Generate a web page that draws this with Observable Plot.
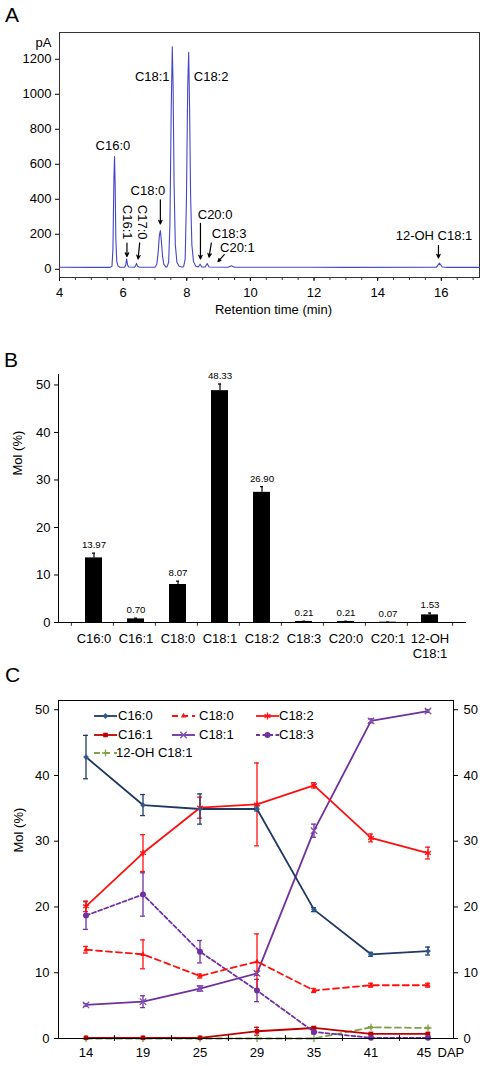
<!DOCTYPE html>
<html>
<head>
<meta charset="utf-8">
<script src="https://cdn.jsdelivr.net/npm/d3@7"></script>
<script src="https://cdn.jsdelivr.net/npm/@observablehq/plot@0.6"></script>
<style>
html,body{margin:0;padding:0;background:#fff;}
#page{position:relative;width:486px;height:1066px;overflow:hidden;font-family:"Liberation Sans",Arial,Helvetica,sans-serif;color:#000;}
.panel{position:absolute;left:0;}
.letter{position:absolute;font-size:21px;line-height:1;}
.legend-text{position:absolute;font-size:13px;line-height:14px;white-space:nowrap;}
.legend-swatch{position:absolute;overflow:visible;}
</style>
</head>
<body>
<div id="page">
  <div class="panel" id="panelA" style="top:0px"></div>
  <div class="panel" id="panelB" style="top:330px"></div>
  <div class="panel" id="panelC" style="top:690px"></div>
  <div class="letter" style="left:5px;top:4px">A</div>
  <div class="letter" style="left:4px;top:349px">B</div>
  <div class="letter" style="left:5px;top:664px">C</div>
  <div id="legendC"></div>
</div>
<script>
// ---------------- Panel A: GC chromatogram ----------------
const chromTime = [4.0, 5.0, 5.55, 5.60, 5.65, 5.68, 5.71, 5.73, 5.75, 5.77, 5.80, 5.84, 5.90,
  6.05, 6.08, 6.11, 6.14, 6.18, 6.36, 6.39, 6.42, 6.45, 6.50,
  7.00, 7.06, 7.10, 7.14, 7.17, 7.20, 7.24, 7.28, 7.34,
  7.38, 7.43, 7.47, 7.51, 7.545, 7.57, 7.60, 7.64, 7.69, 7.76, 7.85,
  7.90, 7.95, 7.99, 8.03, 8.06, 8.09, 8.12, 8.16, 8.21, 8.28,
  8.36, 8.42, 8.47, 8.58, 8.64, 8.70, 9.30, 9.40, 9.50,
  10.5, 12.0, 13.0, 15.85, 15.94, 16.03, 16.2, 17.2];
const chromSignal = [12, 11, 11, 12, 18, 120, 520, 644, 480, 180, 45, 18, 12,
  12, 24, 59, 24, 13, 12, 19, 34, 19, 12,
  12, 30, 95, 195, 221, 165, 72, 28, 14,
  14, 40, 250, 900, 1272, 1050, 500, 140, 40, 17, 13,
  14, 60, 400, 1050, 1240, 900, 420, 140, 45, 18,
  13, 29, 13, 13, 33, 13, 12, 20, 12,
  12, 12, 11, 12, 35, 13, 11, 11];
const chromXTicks = [4, 6, 8, 10, 12, 14, 16];
const chromMinorTicks = d3.range(4, 17.01, 0.5);
const chromYTicks = [0, 200, 400, 600, 800, 1000, 1200];
const peakLabels = ["C16:0", "C18:1", "C18:2", "C18:0", "C16:1", "C17:0", "C20:0", "C18:3", "C20:1", "12-OH C18:1"];
const peakLabelTime = [5.68, 7.46, 8.22, 6.78, 6.12, 6.59, 8.89, 9.33, 9.59, 15.77];
const peakLabelSignal = [703, 1097, 1097, 450, 269, 269, 311, 202, 120, 193];
const rotatedPeaks = ["C16:1", "C17:0"];
const arrowPeaks = ["C16:1", "C17:0", "C18:0", "C20:0", "C18:3", "C20:1", "12-OH C18:1"];
const arrowTimeFrom = [6.12, 6.52, 7.17, 8.43, 8.77, 9.18, 15.91];
const arrowSignalFrom = [149, 151, 397, 263, 149, 84, 135];
const arrowTimeTo = [6.12, 6.47, 7.17, 8.43, 8.70, 8.98, 15.91];
const arrowSignalTo = [73, 59, 259, 59, 69, 44, 65];

// ---------------- Panel B: composition ----------------
const fattyAcids = ["C16:0", "C16:1", "C18:0", "C18:1", "C18:2", "C18:3", "C20:0", "C20:1", "12-OH C18:1"];
const molPercent = [13.6, 0.76, 8.0, 48.8, 27.4, 0.21, 0.21, 0.07, 1.6];
const molError = [1.0, 0.15, 0.7, 1.4, 1.2, 0.05, 0.05, 0.02, 0.4];
const molLabels = ["13.97", "0.70", "8.07", "48.33", "26.90", "0.21", "0.21", "0.07", "1.53"];
const molTicks = [0, 10, 20, 30, 40, 50];

// ---------------- Panel C: time course ----------------
const dap = ["14", "19", "25", "29", "35", "41", "45"];
const c16_0 = [42.8, 35.5, 34.9, 34.9, 19.6, 12.8, 13.3];
const c16_0Err = [3.3, 1.6, 2.3, 0.3, 0.3, 0.3, 0.6];
const c16_1 = [0.1, 0.1, 0.1, 1.1, 1.6, 0.7, 0.7];
const c16_1Err = [0.05, 0.05, 0.05, 0.6, 0.2, 0.1, 0.1];
const c18_0 = [13.5, 12.8, 9.5, 11.7, 7.3, 8.1, 8.1];
const c18_0Err = [0.5, 2.2, 0.3, 4.2, 0.3, 0.3, 0.3];
const c18_1 = [5.1, 5.6, 7.6, 9.9, 31.6, 48.3, 49.8];
const c18_1Err = [0.2, 0.9, 0.4, 0.3, 1.0, 0.3, 0.2];
const c18_2 = [20.1, 28.2, 35.1, 35.6, 38.5, 30.5, 28.2];
const c18_2Err = [0.8, 2.8, 1.6, 6.3, 0.4, 0.6, 0.9];
const c18_3 = [18.7, 21.9, 13.2, 7.3, 1.0, 0.1, 0.1];
const c18_3Err = [2.1, 3.3, 1.7, 1.7, 0.3, 0.05, 0.05];
const oh18_1 = [0.0, 0.0, 0.0, 0.0, 0.0, 1.7, 1.6];
const oh18_1Err = [0, 0, 0, 0, 0, 0.1, 0.1];
const courseTicks = [0, 10, 20, 30, 40, 50];

// ================= rendering =================
const FONT = '"Liberation Sans", Arial, Helvetica, sans-serif';
const baseStyle = {fontSize: "13px", fontFamily: FONT, color: "#000", background: "transparent", overflow: "visible"};

// ---- A ----
const trace = chromTime.map((t, i) => ({time: t, signal: chromSignal[i]}));
const peaks = peakLabels.map((name, i) => ({name, time: peakLabelTime[i], signal: peakLabelSignal[i]}));
const arrows = arrowPeaks.map((name, i) => ({name, x1: arrowTimeFrom[i], y1: arrowSignalFrom[i], x2: arrowTimeTo[i], y2: arrowSignalTo[i]}));

const plotA = Plot.plot({
  width: 486, height: 325,
  marginLeft: 59, marginRight: 7, marginTop: 32, marginBottom: 48,
  style: baseStyle,
  x: {domain: [4, 17.2]},
  y: {domain: [-47, 1353]},
  marks: [
    Plot.axisX({ticks: chromMinorTicks, tickSize: 3, tickFormat: () => "", label: null, stroke: "#333"}),
    Plot.axisX({ticks: chromXTicks, tickSize: 4, tickPadding: 6, label: null, fontSize: 13, tickFormat: d => String(d)}),
    Plot.axisY({ticks: chromYTicks, tickSize: 4, tickPadding: 4, label: null, fontSize: 13, tickFormat: d => String(d)}),
    Plot.frame({stroke: "#333"}),
    Plot.line(trace, {x: "time", y: "signal", stroke: "#4646c8", strokeWidth: 1.1}),
    Plot.text(peaks, {filter: d => d.name === "C18:1", x: "time", y: "signal", text: "name", textAnchor: "end", fontSize: 13}),
    Plot.text(peaks, {filter: d => d.name === "C18:2", x: "time", y: "signal", text: "name", textAnchor: "start", fontSize: 13}),
    Plot.text(peaks, {filter: d => !rotatedPeaks.includes(d.name) && d.name !== "C18:1" && d.name !== "C18:2", x: "time", y: "signal", text: "name", fontSize: 13}),
    Plot.text(peaks, {filter: d => rotatedPeaks.includes(d.name), x: "time", y: "signal", text: "name", rotate: 90, fontSize: 13}),
    Plot.arrow(arrows, {x1: "x1", y1: "y1", x2: "x2", y2: "y2", stroke: "#000", strokeWidth: 1.2, headLength: 5, headAngle: 50}),
    Plot.text(["pA"], {frameAnchor: "top-left", text: d => d, dx: -16, dy: 5, textAnchor: "middle", fontSize: 13}),
    Plot.text(["Retention time (min)"], {frameAnchor: "bottom", text: d => d, dx: 4, dy: 36, fontSize: 13})
  ]
});
document.getElementById("panelA").appendChild(plotA);

// ---- B ----
const barData = fattyAcids.map((name, i) => ({name, value: molPercent[i], err: molError[i], label: molLabels[i]}));
const bLeft = 58, bRight = 465;
const bStep = (bRight - bLeft) / fattyAcids.length;
const plotB = Plot.plot({
  width: 486, height: 340,
  marginLeft: bLeft, marginRight: 486 - bRight, marginTop: 44, marginBottom: 48,
  style: baseStyle,
  x: {type: "band", domain: fattyAcids, padding: 0.6, align: 0.5},
  y: {domain: [0, 52.2]},
  marks: [
    Plot.barY(barData, {x: "name", y: "value", fill: "#000"}),
    Plot.ruleX(barData, {x: "name", y1: "value", y2: d => d.value + d.err, stroke: "#000", strokeWidth: 1.2}),
    Plot.tickY(barData, {x: "name", y: d => d.value + d.err, stroke: "#000", strokeWidth: 1.2, insetLeft: 7, insetRight: 7}),
    Plot.text(barData, {x: "name", y: d => d.value + d.err, text: "label", dy: -8, fontSize: 9.7}),
    Plot.ruleX(fattyAcids, {x: d => d, y1: 0, y2: -0.8, dx: -bStep / 2, stroke: "#333"}),
    Plot.ruleX(fattyAcids.slice(-1), {x: d => d, y1: 0, y2: -0.8, dx: bStep / 2, stroke: "#333"}),
    Plot.axisY({ticks: molTicks, tickSize: 4, tickPadding: 4, label: null, fontSize: 13}),
    Plot.axisX({tickSize: 0, tickPadding: 9, label: null, fontSize: 13, lineHeight: 1.2,
      tickFormat: d => d === "12-OH C18:1" ? "12-OH\nC18:1" : d}),
    Plot.frame({anchor: "left", stroke: "#000"}),
    Plot.frame({anchor: "bottom", stroke: "#000"}),
    Plot.text(["Mol (%)"], {frameAnchor: "left", text: d => d, rotate: -90, dx: -41, dy: -23, fontSize: 13})
  ]
});
document.getElementById("panelB").appendChild(plotB);

// ---- C ----
const seriesC = [
  {name: "12-OH C18:1", values: oh18_1, err: oh18_1Err},
  {name: "C16:1", values: c16_1, err: c16_1Err},
  {name: "C18:3", values: c18_3, err: c18_3Err},
  {name: "C18:1", values: c18_1, err: c18_1Err},
  {name: "C18:0", values: c18_0, err: c18_0Err},
  {name: "C18:2", values: c18_2, err: c18_2Err},
  {name: "C16:0", values: c16_0, err: c16_0Err}
];
const styleC = {
  "C16:0": {color: "#1f3864", mark: "#2f5b8b", symbol: "diamond2", r: 2.6, dash: null, filled: true},
  "C16:1": {color: "#c00000", mark: "#c00000", symbol: "square2", r: 2.9, dash: null, filled: true},
  "C18:0": {color: "#ff1010", mark: "#ff1010", symbol: "triangle2", r: 2.6, dash: "6,4", filled: true},
  "C18:1": {color: "#7030a0", mark: "#7f4fb0", symbol: "times", r: 3.0, dash: null, filled: false},
  "C18:2": {color: "#ff1010", mark: "#ff1010", symbol: "asterisk", r: 3.2, dash: null, filled: false},
  "C18:3": {color: "#7030a0", mark: "#7030a0", symbol: "circle", r: 3.0, dash: "4,2.5", filled: true},
  "12-OH C18:1": {color: "#82a048", mark: "#82a048", symbol: "plus", r: 2.4, dash: "6,4", filled: false}
};
const legendOrder = [["C16:0", "C18:0", "C18:2"], ["C16:1", "C18:1", "C18:3"], ["12-OH C18:1"]];

const cRange = [56.5, 456.5];
const cStep = (cRange[1] - cRange[0]) / dap.length;
const capInset = (cStep - 5) / 2;
const marksC = [];
for (const s of seriesC) {
  const st = styleC[s.name];
  const rows = dap.map((d, i) => ({day: d, v: s.values[i], e: s.err[i]}));
  const withErr = rows.filter(d => d.e > 0.05);
  marksC.push(
    Plot.ruleX(withErr, {x: "day", y1: d => d.v - d.e, y2: d => d.v + d.e, stroke: st.color, strokeWidth: 1.3}),
    Plot.tickY(withErr, {x: "day", y: d => d.v - d.e, stroke: st.color, strokeWidth: 1.3, insetLeft: capInset, insetRight: capInset}),
    Plot.tickY(withErr, {x: "day", y: d => d.v + d.e, stroke: st.color, strokeWidth: 1.3, insetLeft: capInset, insetRight: capInset}),
    Plot.line(rows, {x: "day", y: "v", stroke: st.color, strokeWidth: 1.8, strokeDasharray: st.dash})
  );
}
for (const s of seriesC) {
  const st = styleC[s.name];
  const rows = dap.map((d, i) => ({day: d, v: s.values[i]}));
  marksC.push(st.filled
    ? Plot.dot(rows, {x: "day", y: "v", symbol: st.symbol, r: st.r, fill: st.mark, stroke: "none"})
    : Plot.dot(rows, {x: "day", y: "v", symbol: st.symbol, r: st.r, fill: "none", stroke: st.mark, strokeWidth: 1.3}));
}

const lastDay = dap[dap.length - 1];
const plotC = Plot.plot({
  width: 486, height: 376,
  marginLeft: 58, marginRight: 33, marginTop: 10, marginBottom: 28,
  style: baseStyle,
  x: {type: "band", domain: dap, padding: 0, range: cRange, axis: null},
  y: {domain: [0, 51.4]},
  marks: [
    ...marksC,
    Plot.ruleX(dap.slice(1), {x: d => d, y1: -0.45, y2: 0.45, dx: -cStep / 2, stroke: "#000"}),
    Plot.axisY({ticks: courseTicks, anchor: "left", tickSize: 4, tickPadding: 5, label: null, fontSize: 13}),
    Plot.axisY({ticks: courseTicks, anchor: "right", tickSize: 4, tickPadding: 6, label: null, fontSize: 13}),
    Plot.text(dap.filter(d => d !== lastDay), {x: d => d, text: d => d, frameAnchor: "bottom", dy: 18.4, fontSize: 13}),
    Plot.text([lastDay], {x: d => d, text: d => d, frameAnchor: "bottom", dx: -4, dy: 18.4, fontSize: 13}),
    Plot.frame({stroke: "#000"}),
    Plot.text(["DAP"], {frameAnchor: "bottom-right", text: d => d, textAnchor: "start", dx: -16, dy: 18.4, fontSize: 13}),
    Plot.text(["Mol (%)"], {frameAnchor: "left", text: d => d, rotate: -90, dx: -40, dy: -17, fontSize: 13})
  ]
});
document.getElementById("panelC").appendChild(plotC);

// legend for C (HTML, inside the plot frame)
const legendRowsY = [715.7, 735, 753.3];
const legendSwatchX = [94, 172, 256];
const legendTextX = [118, 199, 279];
const symbolMap = {diamond2: d3.symbolDiamond2, square2: d3.symbolSquare2, triangle2: d3.symbolTriangle2,
  times: d3.symbolTimes, asterisk: d3.symbolAsterisk, circle: d3.symbolCircle, plus: d3.symbolPlus};
const legendEl = document.getElementById("legendC");
legendOrder.forEach((row, ri) => {
  row.forEach((name, ci) => {
    const st = styleC[name];
    const svg = d3.create("svg").attr("class", "legend-swatch").attr("width", 24).attr("height", 14)
      .style("left", legendSwatchX[ci] + "px").style("top", (legendRowsY[ri] - 7) + "px");
    svg.append("line").attr("x1", 0).attr("x2", 23).attr("y1", 7).attr("y2", 7)
      .attr("stroke", st.color).attr("stroke-width", 1.8).attr("stroke-dasharray", st.dash);
    const path = d3.symbol(symbolMap[st.symbol], Math.PI * st.r * st.r)();
    svg.append("path").attr("d", path).attr("transform", "translate(11.5,7)")
      .attr("fill", st.filled ? st.mark : "none").attr("stroke", st.filled ? "none" : st.mark).attr("stroke-width", 1.3);
    legendEl.appendChild(svg.node());
    const t = document.createElement("div");
    t.className = "legend-text";
    t.textContent = name;
    t.style.left = (legendTextX[ci] - (name === "12-OH C18:1" ? 2 : 0)) + "px";
    t.style.top = (legendRowsY[ri] - 7) + "px";
    legendEl.appendChild(t);
  });
});
</script>
</body>
</html>
